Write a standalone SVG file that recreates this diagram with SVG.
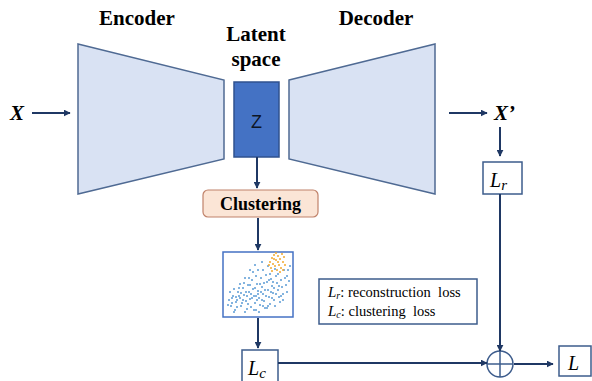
<svg xmlns="http://www.w3.org/2000/svg" width="592" height="381" viewBox="0 0 592 381">
<style>
.t{font-family:"Liberation Serif","Times New Roman","DejaVu Serif",serif;fill:#000}
.h{font-weight:bold;font-size:21px}
.ln{stroke:#1F3864;stroke-width:2;fill:none}
.box{fill:#fff;stroke:#3D5C8C;stroke-width:1.5}
.trap{fill:#D9E2F3;stroke:#4F6A93;stroke-width:1.5}
.b{fill:#5B9BD5}
.o{fill:#F2A92E}
.zt{font-family:"Liberation Sans","DejaVu Sans",Arial,sans-serif;font-size:18px;fill:#0d1524}
</style>
<defs>
<marker id="ah" viewBox="0 0 10 10" refX="9" refY="5" markerWidth="7" markerHeight="7" markerUnits="userSpaceOnUse" orient="auto">
<path d="M0,0 L10,5 L0,10 z" fill="#1F3864"/>
</marker>
</defs>
<rect width="592" height="381" fill="#fff"/>
<text class="t h" x="137" y="25" text-anchor="middle">Encoder</text>
<text class="t h" x="256" y="41" text-anchor="middle">Latent</text>
<text class="t h" x="256" y="66" text-anchor="middle">space</text>
<text class="t h" x="376" y="25" text-anchor="middle">Decoder</text>
<g id="encoder"><polygon class="trap" points="78,44 224,80 224,159 78,194"/></g>
<g id="decoder"><polygon class="trap" points="289,80 435,44 435,194 289,159"/></g>
<g id="z"><rect x="234" y="82" width="45" height="75" fill="#4472C4" stroke="#2F528F" stroke-width="1.5"/>
<text class="zt" x="256.5" y="128" text-anchor="middle">Z</text></g>
<g id="x"><text class="t" x="10" y="120" font-size="21" font-weight="bold" font-style="italic">X</text></g>
<g id="xprime"><text class="t" x="494" y="120" font-size="21" font-weight="bold" font-style="italic">X’</text></g>
<g id="clustering"><rect x="203" y="190" width="115" height="27" rx="5" fill="#FBE5D6" stroke="#C0826A" stroke-width="1.2"/>
<text class="t" x="260.5" y="210" text-anchor="middle" font-size="18" font-weight="bold">Clustering</text></g>
<g id="scatter"><rect x="223" y="252" width="70" height="65" fill="#fff" stroke="#4472C4" stroke-width="1.5"/>
<g class="b">
<circle cx="229" cy="300" r="1"/><circle cx="231" cy="306" r="1"/><circle cx="233" cy="296" r="1"/><circle cx="235" cy="310" r="1"/><circle cx="236" cy="302" r="1"/><circle cx="238" cy="292" r="1"/><circle cx="240" cy="298" r="1"/><circle cx="241" cy="306" r="1"/><circle cx="243" cy="288" r="1"/><circle cx="244" cy="295" r="1"/><circle cx="245" cy="312" r="1"/><circle cx="246" cy="301" r="1"/><circle cx="248" cy="285" r="1"/><circle cx="249" cy="292" r="1"/><circle cx="250" cy="299" r="1"/><circle cx="251" cy="307" r="1"/><circle cx="252" cy="280" r="1"/><circle cx="253" cy="289" r="1"/><circle cx="254" cy="296" r="1"/><circle cx="255" cy="303" r="1"/><circle cx="256" cy="310" r="1"/><circle cx="257" cy="284" r="1"/><circle cx="258" cy="291" r="1"/><circle cx="259" cy="298" r="1"/><circle cx="260" cy="305" r="1"/><circle cx="261" cy="278" r="1"/><circle cx="262" cy="287" r="1"/><circle cx="263" cy="294" r="1"/><circle cx="264" cy="301" r="1"/><circle cx="265" cy="308" r="1"/><circle cx="266" cy="275" r="1"/><circle cx="267" cy="282" r="1"/><circle cx="268" cy="290" r="1"/><circle cx="269" cy="297" r="1"/><circle cx="270" cy="304" r="1"/><circle cx="271" cy="279" r="1"/><circle cx="272" cy="286" r="1"/><circle cx="273" cy="293" r="1"/><circle cx="274" cy="300" r="1"/><circle cx="276" cy="276" r="1"/><circle cx="277" cy="283" r="1"/><circle cx="278" cy="290" r="1"/><circle cx="279" cy="297" r="1"/><circle cx="281" cy="280" r="1"/><circle cx="282" cy="287" r="1"/><circle cx="283" cy="294" r="1"/><circle cx="285" cy="278" r="1"/><circle cx="286" cy="285" r="1"/><circle cx="288" cy="270" r="1"/><circle cx="287" cy="292" r="1"/><circle cx="230" cy="292" r="1"/><circle cx="232" cy="303" r="1"/><circle cx="234" cy="289" r="1"/><circle cx="237" cy="307" r="1"/><circle cx="239" cy="296" r="1"/><circle cx="242" cy="303" r="1"/><circle cx="244" cy="283" r="1"/><circle cx="247" cy="309" r="1"/><circle cx="249" cy="278" r="1"/><circle cx="251" cy="294" r="1"/><circle cx="253" cy="272" r="1"/><circle cx="255" cy="288" r="1"/><circle cx="257" cy="300" r="1"/><circle cx="259" cy="312" r="1"/><circle cx="261" cy="292" r="1"/><circle cx="263" cy="270" r="1"/><circle cx="264" cy="283" r="1"/><circle cx="266" cy="296" r="1"/><circle cx="268" cy="306" r="1"/><circle cx="270" cy="274" r="1"/><circle cx="272" cy="298" r="1"/><circle cx="274" cy="288" r="1"/><circle cx="275" cy="269" r="1"/><circle cx="278" cy="274" r="1"/><circle cx="280" cy="302" r="1"/><circle cx="284" cy="270" r="1"/><circle cx="289" cy="281" r="1"/><circle cx="290" cy="266" r="1"/><circle cx="236" cy="297" r="1"/><circle cx="239" cy="288" r="1"/><circle cx="243" cy="300" r="1"/><circle cx="246" cy="292" r="1"/><circle cx="248" cy="304" r="1"/><circle cx="250" cy="285" r="1"/><circle cx="252" cy="298" r="1"/><circle cx="254" cy="310" r="1"/><circle cx="256" cy="276" r="1"/><circle cx="258" cy="294" r="1"/><circle cx="260" cy="284" r="1"/><circle cx="262" cy="300" r="1"/><circle cx="265" cy="290" r="1"/><circle cx="267" cy="308" r="1"/><circle cx="269" cy="280" r="1"/><circle cx="271" cy="292" r="1"/><circle cx="273" cy="282" r="1"/><circle cx="276" cy="294" r="1"/><circle cx="279" cy="286" r="1"/><circle cx="281" cy="296" r="1"/><circle cx="228" cy="305" r="1"/><circle cx="234" cy="312" r="1"/><circle cx="240" cy="284" r="1"/><circle cx="245" cy="278" r="1"/><circle cx="250" cy="270" r="1"/><circle cx="255" cy="265" r="1"/><circle cx="262" cy="262" r="1"/><circle cx="268" cy="266" r="1"/><circle cx="258" cy="270" r="1"/><circle cx="247" cy="296" r="1"/><circle cx="241" cy="293" r="1"/><circle cx="237" cy="300" r="1"/><circle cx="232" cy="298" r="1"/><circle cx="256" cy="296" r="1"/><circle cx="263" cy="306" r="1"/><circle cx="275" cy="306" r="1"/><circle cx="283" cy="300" r="1"/><circle cx="287" cy="276" r="1"/>
</g>
<g class="o">
<circle cx="270" cy="262" r="1"/><circle cx="272" cy="258" r="1"/><circle cx="274" cy="255" r="1"/><circle cx="276" cy="260" r="1"/><circle cx="278" cy="256" r="1"/><circle cx="280" cy="259" r="1"/><circle cx="282" cy="254" r="1"/><circle cx="283" cy="262" r="1"/><circle cx="279" cy="265" r="1"/><circle cx="275" cy="266" r="1"/><circle cx="271" cy="268" r="1"/><circle cx="273" cy="264" r="1"/><circle cx="277" cy="270" r="1"/><circle cx="281" cy="268" r="1"/><circle cx="284" cy="257" r="1"/><circle cx="276" cy="253" r="1"/><circle cx="272" cy="271" r="1"/><circle cx="285" cy="265" r="1"/><circle cx="278" cy="262" r="1"/><circle cx="280" cy="272" r="1"/><circle cx="274" cy="259" r="1"/><circle cx="269" cy="265" r="1"/><circle cx="283" cy="270" r="1"/>
</g></g>
<g id="lr"><rect class="box" x="483" y="162" width="39" height="32"/>
<text class="t" x="490" y="187" font-size="20" font-style="italic">L<tspan font-size="15" dy="3">r</tspan></text></g>
<g id="lc"><rect class="box" x="242" y="350" width="36" height="40"/>
<text class="t" x="248" y="375" font-size="20" font-style="italic">L<tspan font-size="15" dy="3">c</tspan></text></g>
<g id="sum"><circle cx="500" cy="364" r="13" fill="#fff" stroke="#3D5C8C" stroke-width="1.5"/>
<line x1="487" y1="364" x2="513" y2="364" stroke="#3D5C8C" stroke-width="1.5"/>
<line x1="500" y1="351" x2="500" y2="377" stroke="#3D5C8C" stroke-width="1.5"/></g>
<g id="l"><rect class="box" x="559" y="346" width="32" height="30"/>
<text class="t" x="568" y="370" font-size="20" font-style="italic">L</text></g>
<g id="legend"><rect class="box" x="319" y="279" width="158" height="45"/>
<text class="t" x="328" y="297" font-size="14.5" xml:space="preserve"><tspan font-style="italic" font-size="15">L</tspan><tspan font-style="italic" font-size="10" dy="2">r</tspan><tspan dy="-2">: reconstruction  loss</tspan></text>
<text class="t" x="328" y="316" font-size="14.5" xml:space="preserve"><tspan font-style="italic" font-size="15">L</tspan><tspan font-style="italic" font-size="10" dy="2">c</tspan><tspan dy="-2">: clustering  loss</tspan></text></g>
<g id="connectors">
<line class="ln" x1="32" y1="113" x2="70" y2="113" marker-end="url(#ah)"/>
<line class="ln" x1="449" y1="113" x2="487" y2="113" marker-end="url(#ah)"/>
<line class="ln" x1="500" y1="127" x2="500" y2="156" marker-end="url(#ah)"/>
<line class="ln" x1="257" y1="157" x2="257" y2="188" marker-end="url(#ah)"/>
<line class="ln" x1="258" y1="218" x2="258" y2="250" marker-end="url(#ah)"/>
<line class="ln" x1="258" y1="318" x2="258" y2="348" marker-end="url(#ah)"/>
<line class="ln" x1="500" y1="194" x2="500" y2="351" marker-end="url(#ah)"/>
<line class="ln" x1="278" y1="363" x2="487" y2="363" marker-end="url(#ah)"/>
<line class="ln" x1="514" y1="364" x2="553" y2="364" marker-end="url(#ah)"/>
</g>
</svg>
